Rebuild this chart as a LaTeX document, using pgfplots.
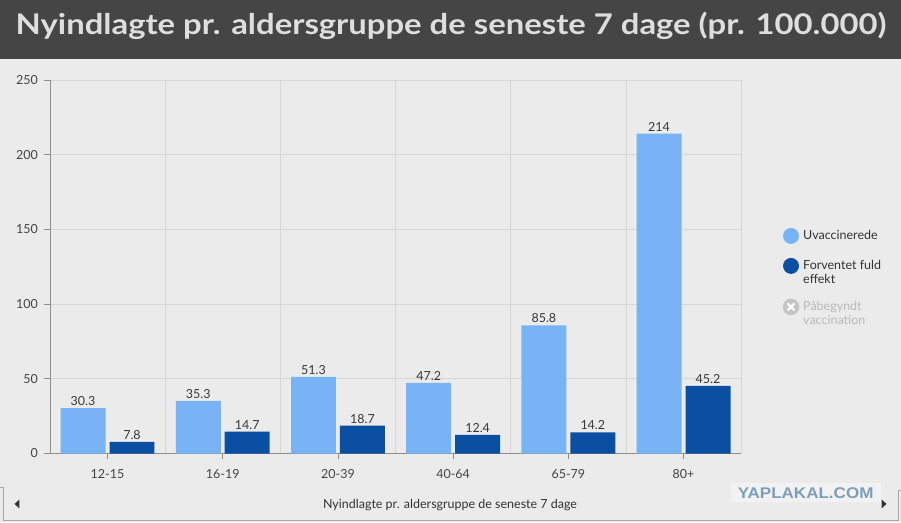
\documentclass[border=0pt]{standalone}
\usepackage{graphicx}
\usepackage{pgfplots}
\pgfplotsset{compat=1.18}
\usepackage{fontspec}
\setmainfont{Lato}
\newfontfamily\wmfont{Liberation Sans}
\definecolor{bg}{HTML}{EBEBEB}
\definecolor{titlebg}{HTML}{454545}
\definecolor{titletext}{HTML}{DEDEDE}
\definecolor{lightb}{HTML}{78B3F6}
\definecolor{darkb}{HTML}{0B4FA3}
\definecolor{gridc}{HTML}{D6D6D6}
\definecolor{axc}{HTML}{8E8E8E}
\definecolor{labc}{HTML}{444444}
\definecolor{valc}{HTML}{383838}
\definecolor{legc}{HTML}{333333}
\definecolor{xgray}{HTML}{C4C4C4}
\definecolor{graytext}{HTML}{B8B8B8}
\definecolor{wmbg}{HTML}{F2F2F2}
\definecolor{wmc}{HTML}{7D9DBA}
\definecolor{framec}{HTML}{A8A8A8}
\definecolor{arrowc}{HTML}{333333}
\begin{document}
\begin{tikzpicture}
\begin{scope}[x=1pt,y=1pt,shift={(-49.5pt,454pt)}]
\fill[bg] (0,0) rectangle (901,-523);
\fill[titlebg] (0,0) rectangle (901,-59.5);
\node[anchor=base west, inner sep=0pt, text=titletext, font=\fontsize{28.5}{30}\selectfont\bfseries] at (15,-35) {\scalebox{1.153}[1]{Nyindlagte pr. aldersgruppe de seneste 7 dage (pr. 100.000)}};
\end{scope}
\begin{axis}[
  anchor=south west, scale only axis,
  width=692pt, height=374pt,
  xmin=-0.5, xmax=5.5, ymin=0, ymax=250,
  ybar, bar width=45pt,
  ytick={0,50,...,250},
  xtick={0,...,5},
  xticklabels={12-15,16-19,20-39,40-64,65-79,80+},
  minor xtick={0.5,1.5,2.5,3.5,4.5,5.5},
  xminorgrids, ymajorgrids,
  grid style={draw=gridc, line width=0.8pt},
  minor grid style={draw=gridc, line width=0.8pt},
  axis x line*=bottom, axis y line*=left,
  axis line style={draw=axc, line width=0.8pt},
  tick align=outside, major tick length=6pt, minor tick length=0pt,
  tick style={draw=axc, line width=0.8pt},
  /pgf/number format/assume math mode=true,
  /pgf/number format/fixed, /pgf/number format/precision=1,
  ticklabel style={font=\fontsize{12.5}{14}\selectfont, text=labc},
  yticklabel style={inner sep=0pt, xshift=-6pt},
  xticklabel style={yshift=-6pt},
  nodes near coords,
  nodes near coords style={font=\fontsize{12.5}{14}\selectfont, text=valc, inner sep=2pt},
  xlabel={Nyindlagte pr. aldersgruppe de seneste 7 dage},
  xlabel style={at={(axis description cs:0.5788,-0.139)}, anchor=center, font=\fontsize{12.5}{14}\selectfont, text=legc},
  legend style={at={(axis description cs:1.06,0.6043)}, anchor=north west, draw=none, fill=none, inner sep=0pt, row sep=14pt, column sep=4pt,
    nodes={inner sep=0pt, anchor=west, align=left, font=\fontsize{12.5}{14}\selectfont, text=legc}},
  legend cell align=left,
  clip=false,
]
\addplot[fill=lightb, draw=none, bar shift=-24.5pt,
  legend image code/.code={\fill[lightb] (8pt,0pt) circle (8pt);}]
  coordinates {(0,30.3) (1,35.3) (2,51.3) (3,47.2) (4,85.8) (5,214)};
\addlegendentry{Uvaccinerede}
\addplot[fill=darkb, draw=none, bar shift=24.5pt,
  legend image code/.code={\fill[darkb] (8pt,6.5pt) circle (8pt);}]
  coordinates {(0,7.8) (1,14.7) (2,18.7) (3,12.4) (4,14.2) (5,45.2)};
\addlegendentry{Forventet fuld\\effekt}
\addlegendimage{legend image code/.code={\fill[xgray] (8pt,6.5pt) circle (8pt); \draw[white, line width=2.2pt] (4.5pt,3pt)--(11.5pt,10pt) (4.5pt,10pt)--(11.5pt,3pt);}}
\addlegendentry[text=graytext]{Påbegyndt\\vaccination}
\end{axis}
\begin{scope}[x=1pt,y=1pt,shift={(-49.5pt,454pt)}]
\fill[wmbg] (731,-484) rectangle (881,-503);
\node[text=wmc, font=\wmfont\bfseries\fontsize{15.5}{15.5}\selectfont, inner sep=0pt] at (806,-493.5) {\scalebox{1.1}[1]{YAPLAKAL.COM}};
\draw[framec, line width=1pt] (0,-488) -- (3,-488) -- (3,-521) -- (899,-521) -- (899,-491) -- (901,-491);
\fill[arrowc] (14,-504.5) -- (19,-500) -- (19,-509) -- cycle;
\fill[arrowc] (887,-504.5) -- (882,-500) -- (882,-509) -- cycle;
\end{scope}
\end{tikzpicture}
\end{document}
